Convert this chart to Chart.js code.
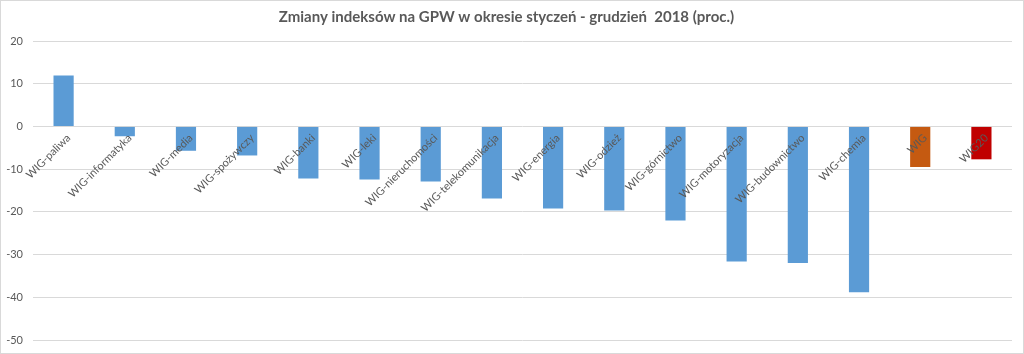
<!DOCTYPE html>
<html>
<head>
<meta charset="utf-8">
<script src="https://cdn.jsdelivr.net/npm/chart.js@4"></script>
<style>
  html, body { margin: 0; padding: 0; background: #fff; }
  #wrap { width: 1024px; height: 354px; box-sizing: border-box; border: 1px solid #d9d9d9; }
  canvas { display: block; }
</style>
</head>
<body>
<div id="wrap"><canvas id="myChart" width="1022" height="352"></canvas></div>
<script>
const tytul = "Zmiany indeksów na GPW w okresie styczeń - grudzień  2018 (proc.)";

const indeksy = [
  "WIG-paliwa", "WIG-informatyka", "WIG-media", "WIG-spożywczy", "WIG-banki",
  "WIG-leki", "WIG-nieruchomości", "WIG-telekomunikacja", "WIG-energia", "WIG-odzież",
  "WIG-górnictwo", "WIG-motoryzacja", "WIG-budownictwo", "WIG-chemia", "WIG", "WIG20",
];

const zmiany = [11.9, -2.3, -5.7, -6.8, -12.2, -12.4, -12.9, -16.9, -19.2, -19.7, -22.0, -31.6, -32.0, -38.8, -9.5, -7.7];

const osY = [20, 10, 0, -10, -20, -30, -40, -50];

// kolory: sektory na niebiesko, WIG pomarańczowy, WIG20 czerwony
const kolory = indeksy.map((n) => {
  if (n === "WIG") return "#C55A11";
  if (n === "WIG20") return "#C00000";
  return "#5B9BD5";
});

const ctx = document.getElementById("myChart");

new Chart(ctx, {
  type: "bar",
  data: {
    labels: indeksy,
    datasets: [
      {
        label: "zmiana",
        data: zmiany,
        backgroundColor: kolory,
        barPercentage: 0.33,
        categoryPercentage: 1,
      },
    ],
  },
  options: {
    responsive: false,
    animation: false,
    layout: { padding: { left: 0, right: 11, bottom: 13, top: 0 } },
    plugins: {
      legend: { display: false },
      tooltip: { enabled: false },
      title: {
        display: true,
        text: tytul,
        color: "#595959",
        font: { family: "Lato", size: 15, weight: "bold" },
        padding: { top: 7, bottom: 15 },
      },
    },
    scales: {
      x: {
        position: { y: 0 },
        grid: { display: false, drawTicks: false },
        border: { display: false },
        ticks: {
          z: 1,
          color: "#595959",
          font: { family: "Lato", size: 11 },
          minRotation: 45,
          maxRotation: 45,
          autoSkip: false,
          padding: 5,
          labelOffset: 5,
        },
      },
      y: {
        min: osY[osY.length - 1],
        max: osY[0],
        grid: { color: "#d9d9d9", drawTicks: false },
        border: { display: false },
        afterBuildTicks: (scale) => {
          scale.ticks = osY.map((v) => ({ value: v }));
        },
        afterFit: (scale) => {
          scale.width = 32;
          scale.paddingTop = 0;
          scale.paddingBottom = 0;
        },
        ticks: {
          color: "#595959",
          font: { family: "Lato", size: 11 },
          padding: 10,
        },
      },
    },
  },
});
</script>
</body>
</html>
